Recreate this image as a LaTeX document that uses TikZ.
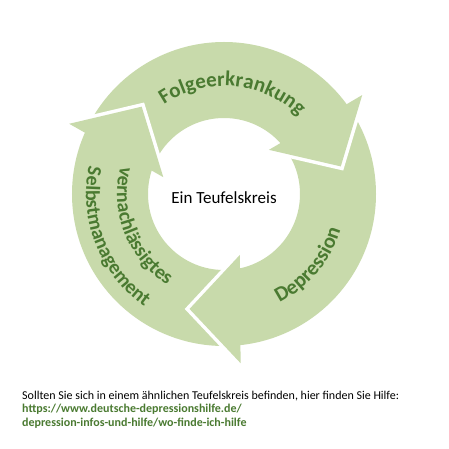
\documentclass[tikz,border=0pt]{standalone}
\usepackage{fontspec}
\setmainfont{Carlito}
\usetikzlibrary{decorations.text}
\definecolor{ringc}{HTML}{C8DAAB}
\definecolor{tg}{HTML}{4A7A31}
\newcommand\lblbig{\fontsize{21}{21}\selectfont\bfseries\color{tg}}
\newcommand\lblsmall{\fontsize{20}{20}\selectfont\bfseries\color{tg}}
\tikzset{
  gapline/.style={white, line width=7pt, line join=miter},
  headfill/.style={fill=ringc},
  curvedlabel/.style={decorate, decoration={text along path, text={#1}, text align=center}},
  bottomtext/.style={anchor=base west, inner sep=0pt, font=\fontsize{12}{14}\selectfont},
  urltext/.style={anchor=base west, inner sep=0pt, font=\fontsize{12}{14}\selectfont\bfseries, text=tg}
}
\begin{document}
\begin{tikzpicture}[x=1pt,y=1pt]
\useasboundingbox (-224,-255) rectangle (225,194);
% ring
\fill[ringc, even odd rule] (0,0) circle[radius=152] (0,0) circle[radius=76];
% arrow heads with white gaps
\foreach \p in {0,-120,120} {
  \draw[gapline] (\p+35.6:170) -- (\p+13.3:120) -- (\p+44.5:63);
  \fill[ringc] (\p+35.6:170) -- (\p+13.3:120) -- (\p+44.5:63) -- cycle;
}
% curved labels
\path[curvedlabel={|\lblbig|Folgeerkrankung}] (145:108) arc[start angle=145, end angle=25, radius=108];
\path[curvedlabel={|\lblbig|Depression}] (-100:122) arc[start angle=-100, end angle=20, radius=122];
\path[curvedlabel={|\lblsmall|vernachlässigtes}] (141.5:107) arc[start angle=141.5, end angle=261.5, radius=107];
\path[curvedlabel={|\lblsmall|Selbstmanagement}] (141.5:138) arc[start angle=141.5, end angle=261.5, radius=138];
% centre
\node[font=\fontsize{17}{17}\selectfont] (centre) at (0,-4) {Ein Teufelskreis};
% bottom text
\node[bottomtext] (l1) at (-202,-205) {Sollten Sie sich in einem ähnlichen Teufelskreis befinden, hier finden Sie Hilfe:};
\node[urltext] (l2) at (-202,-218.7) {https://www.deutsche-depressionshilfe.de/};
\node[urltext] (l3) at (-202,-232.5) {depression-infos-und-hilfe/wo-finde-ich-hilfe};
\end{tikzpicture}
\end{document}
